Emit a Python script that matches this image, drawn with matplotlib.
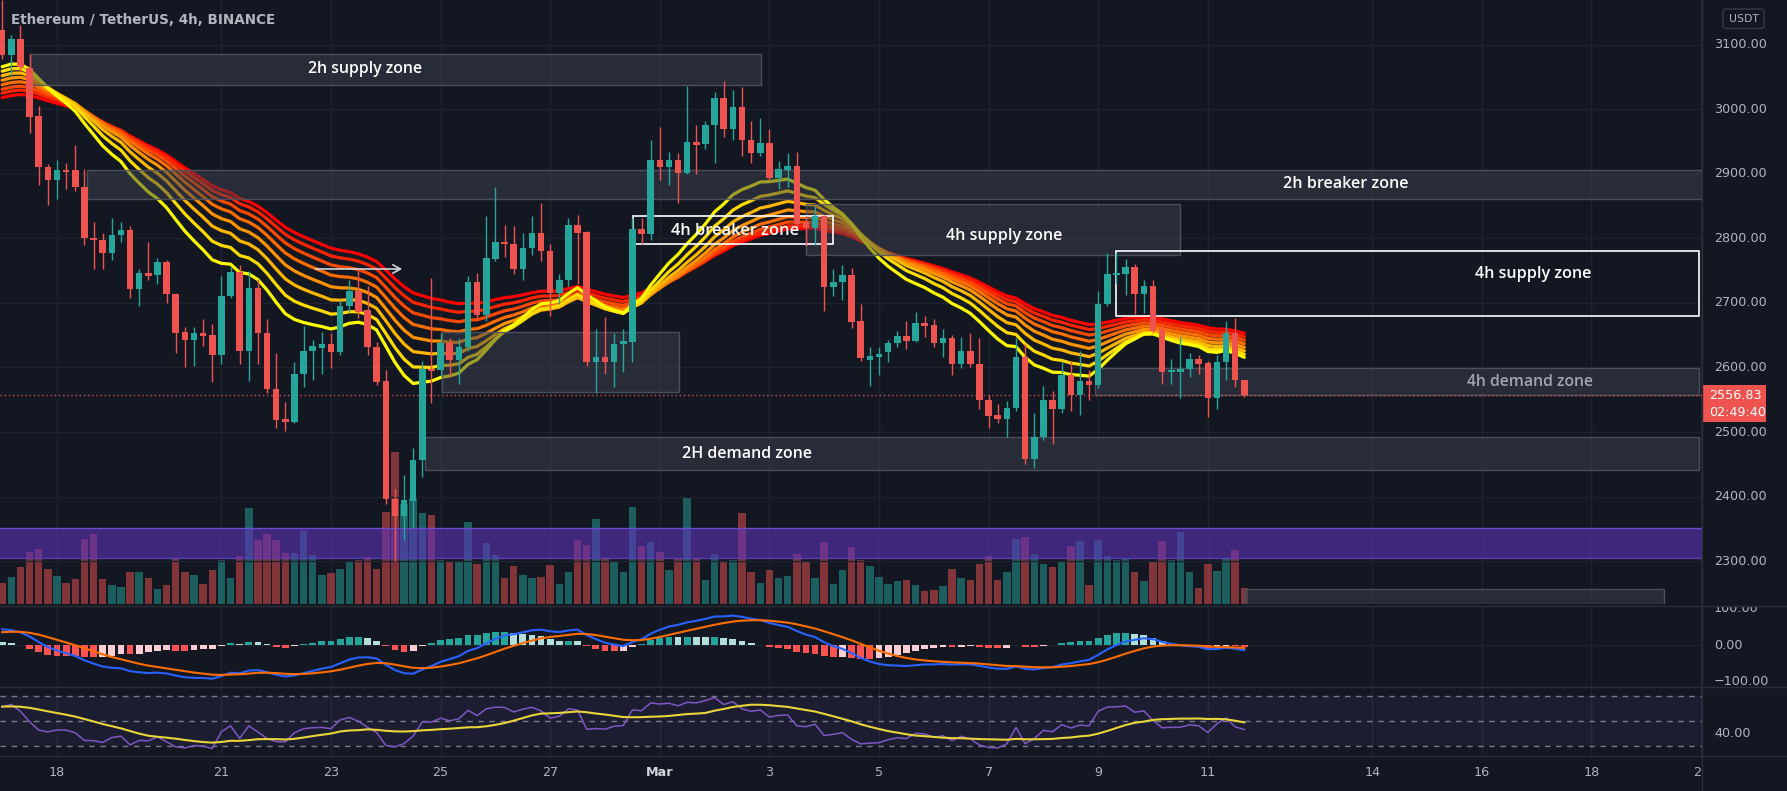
import numpy as np
import matplotlib
matplotlib.use("Agg")
import matplotlib.pyplot as plt
from matplotlib.patches import Rectangle, FancyBboxPatch
from matplotlib.lines import Line2D
from matplotlib.transforms import IdentityTransform

# ---------------- data (ETH/USDT 4h, Binance, from Feb 17 00:00) ----------------
opens = [3123,3084,3109,3064,2990,2910,2890,2906,2906,2879,
         2801,2797,2778,2805,2813,2721,2746,2743,2764,2714,
         2655,2642,2653,2650,2620,2710,2748,2625,2723,2653,
         2567,2520,2516,2590,2625,2630,2636,2624,2696,2719,
         2689,2632,2579,2397,2370,2393,2456,2597,2596,2638,
         2611,2632,2733,2681,2768,2794,2791,2752,2785,2809,
         2780,2716,2736,2820,2810,2608,2616,2608,2636,2640,
         2815,2807,2921,2911,2922,2902,2950,2946,2976,3017,
         2969,3004,2952,2933,2947,2893,2906,2912,2826,2816,
         2834,2724,2733,2744,2672,2612,2617,2624,2638,2649,
         2641,2669,2666,2638,2645,2606,2626,2606,2550,2526,
         2520,2537,2617,2459,2492,2549,2535,2588,2558,2579,
         2573,2698,2744,2745,2756,2714,2727,2659,2593,2593,
         2597,2613,2607,2552,2609,2654,2581]
highs = [3170,3115,3130,3086,3005,2916,2921,2917,2945,2908,
         2826,2809,2832,2826,2819,2753,2795,2769,2766,2716,
         2663,2663,2675,2667,2742,2756,2759,2750,2737,2675,
         2622,2546,2608,2665,2643,2655,2654,2704,2736,2753,
         2727,2640,2596,2412,2433,2476,2610,2739,2654,2645,
         2645,2742,2746,2835,2879,2820,2819,2809,2834,2855,
         2791,2745,2832,2836,2812,2660,2678,2654,2660,2832,
         2832,2952,2972,2934,2933,3036,2976,2982,3027,3044,
         3030,3034,2982,2987,2969,2920,2933,2934,2835,2850,
         2836,2753,2759,2754,2698,2631,2631,2643,2657,2672,
         2686,2680,2675,2660,2651,2648,2654,2645,2558,2543,
         2548,2645,2637,2529,2572,2564,2608,2610,2625,2596,
         2718,2777,2778,2768,2760,2736,2736,2666,2613,2648,
         2622,2620,2610,2619,2672,2676,2581]
lows = [3078,3051,3060,2963,2882,2851,2861,2877,2873,2789,
        2752,2753,2767,2794,2708,2696,2736,2730,2700,2622,
        2600,2602,2634,2577,2605,2707,2606,2579,2606,2560,
        2507,2501,2514,2570,2581,2590,2599,2619,2686,2677,
        2619,2573,2389,2300,2333,2351,2430,2545,2587,2587,
        2574,2625,2675,2672,2765,2771,2745,2736,2774,2765,
        2680,2698,2727,2730,2602,2561,2590,2570,2593,2608,
        2791,2797,2890,2883,2855,2899,2900,2939,2917,2957,
        2953,2928,2917,2927,2890,2876,2879,2815,2788,2789,
        2688,2710,2704,2661,2610,2571,2589,2609,2631,2628,
        2640,2648,2631,2616,2589,2599,2600,2535,2507,2514,
        2492,2532,2450,2444,2488,2482,2529,2532,2526,2549,
        2568,2695,2731,2712,2683,2684,2654,2574,2575,2552,
        2585,2590,2523,2535,2581,2570,2554]
closes = [3084,3109,3066,2988,2910,2891,2906,2903,2879,2800,
          2797,2778,2805,2813,2721,2746,2742,2764,2714,2654,
          2642,2653,2649,2620,2710,2748,2625,2723,2653,2567,
          2519,2516,2590,2625,2634,2636,2624,2696,2719,2686,
          2632,2578,2396,2370,2395,2456,2597,2594,2638,2611,
          2632,2733,2681,2770,2794,2791,2752,2785,2809,2780,
          2716,2736,2820,2809,2608,2616,2608,2636,2641,2815,
          2807,2921,2911,2922,2902,2949,2945,2976,3017,2969,
          3004,2952,2933,2947,2893,2908,2912,2823,2816,2834,
          2724,2733,2744,2671,2614,2618,2621,2638,2649,2641,
          2669,2665,2638,2645,2606,2626,2605,2550,2525,2520,
          2537,2617,2459,2492,2549,2535,2588,2558,2579,2573,
          2698,2745,2747,2756,2714,2727,2657,2593,2596,2597,
          2613,2606,2552,2609,2654,2581,2556.83]
volumes = [21,27,37,52,55,35,28,21,25,65,
           70,25,19,17,32,32,26,15,19,46,
           32,29,20,34,44,26,48,96,64,70,
           64,51,51,73,49,29,31,35,43,44,
           47,35,92,152,100,107,91,89,44,43,
           43,82,40,61,49,26,38,29,26,27,
           39,20,32,64,59,85,46,43,32,97,
           58,62,52,34,46,107,45,24,50,43,
           44,91,32,21,34,26,28,50,43,26,
           62,20,34,57,44,38,27,20,23,24,
           19,13,14,18,35,26,24,40,48,24,
           32,65,67,50,40,37,43,58,63,19,
           64,48,44,46,32,23,43,63,44,72,
           32,16,40,33,46,54,16]

# time axis: day offsets from Feb 17 and their labels
date_days = [1, 4, 6, 8, 10, 12, 14, 16, 18, 20, 22, 25, 27, 29, 31]
date_labels = ['18', '21', '23', '25', '27', 'Mar', '3', '5', '7', '9', '11', '14', '16', '18', '20']

price_ticks = [2300, 2400, 2500, 2600, 2700, 2800, 2900, 3000, 3100]
macd_ticks = [100, 0, -100]
macd_tick_labels = ['100.00', '0.00', '\u2212100.00']
rsi_ticks = [40]
rsi_tick_labels = ['40.00']

ribbon_lengths = [20, 25, 30, 35, 40, 45, 50, 55]
ribbon_start = [3066, 3059, 3052, 3045, 3038, 3031, 3025, 3018]
macd_fast_start, macd_slow_start, macd_signal_start = 3101, 3058, 35
rsi_gain_start, rsi_loss_start = 22, 14
rsi_ma_start = 61.5

# zone drawings: (x0, x1, price_lo, price_hi, kind, label, label_x, label_price, label_width_px)
zones = [
    (3.04, 83.05, 3038, 3085.8, 'gray', '2h supply zone', 39.7, 3062, 114),
    (9.28, 186.2, 2861.3, 2906.7, 'gray', '2h breaker zone', 147.1, 2884, 125),
    (48.1, 74.1, 2562, 2655.5, 'gray', '', 0, 0, 0),
    (88.0, 129.0, 2773.8, 2852.5, 'gray', '4h supply zone', 109.7, 2803, 116),
    (46.3, 185.8, 2441, 2492, 'gray', '2H demand zone', 81.5, 2466, 130),
    (119.6, 185.8, 2558, 2599, 'gray', '4h demand zone', 167.3, 2578, 126),
    (136.0, 182.0, 2233.6, 2256.8, 'gray', '', 0, 0, 0),
    (69.1, 91.0, 2791.3, 2834, 'white', '4h breaker zone', 80.2, 2812, 127),
    (121.96, 185.8, 2680.4, 2779.7, 'white', '4h supply zone', 167.6, 2745.6, 116),
]
arrow_from = (34.0, 2752.6)
arrow_to = (44.1, 2752.6)

# ---------------- styling ----------------
W, H, DPI = 1787, 791, 100
BG = '#131722'
UP = '#26a69a'
DN = '#ef5350'
GRID = '#1f2330'
SEP = '#2a2e39'
TXT = '#b2b5be'
PLOT_R = 1702

fig = plt.figure(figsize=(W / DPI, H / DPI), dpi=DPI, facecolor=BG)
renderer = fig.canvas.get_renderer()


def rect(x0, y0, x1, y1):
    return [x0 / W, 1 - y1 / H, (x1 - x0) / W, (y1 - y0) / H]


def fit(t, width_px):
    bb = t.get_window_extent(renderer)
    if bb.width > 0:
        t.set_fontsize(t.get_fontsize() * width_px / bb.width)
    return t


n = len(closes)
x = np.arange(n)
o = np.array(opens, float)
h = np.array(highs, float)
l = np.array(lows, float)
c = np.array(closes, float)
v = np.array(volumes, float)

XLIM = (-0.241, 186.11)
PLIM = (2233.6, 3169.3)

ax_vol = fig.add_axes(rect(0, 0, PLOT_R, 604))
ax = fig.add_axes(rect(0, 0, PLOT_R, 604), sharex=ax_vol)
ax_m = fig.add_axes(rect(0, 606, PLOT_R, 687), sharex=ax)
ax_r = fig.add_axes(rect(0, 687, PLOT_R, 756), sharex=ax)
ax_pl = fig.add_axes(rect(PLOT_R, 0, W, 604))
ax_ml = fig.add_axes(rect(PLOT_R, 606, W, 687))
ax_rl = fig.add_axes(rect(PLOT_R, 687, W, 756))
ax_tl = fig.add_axes(rect(0, 756, PLOT_R, H))
ax_vol.set_zorder(1)
ax.set_zorder(2)
for a in (ax_vol, ax, ax_m, ax_r, ax_pl, ax_ml, ax_rl, ax_tl):
    a.set_axis_off()

ax.set_xlim(*XLIM)
ax.set_ylim(*PLIM)
ax_vol.set_ylim(0, 604)
MLIM = (-114.4, 106.3)
RLIM = (22.2, 77.0)
ax_m.set_ylim(*MLIM)
ax_r.set_ylim(*RLIM)
ax_pl.set_xlim(0, 85); ax_pl.set_ylim(*PLIM)
ax_ml.set_xlim(0, 85); ax_ml.set_ylim(*MLIM)
ax_rl.set_xlim(0, 85); ax_rl.set_ylim(*RLIM)
ax_tl.set_xlim(*XLIM); ax_tl.set_ylim(0, 1)

# grid
tick_x = [6 * d for d in date_days]
for tx in tick_x:
    for a in (ax_vol, ax_m, ax_r):
        a.axvline(tx, color=GRID, lw=1, zorder=0)
for p in price_ticks:
    ax.axhline(p, color=GRID, lw=1, zorder=0)
ax_m.axhline(0, color=GRID, lw=1, zorder=0)

# volume
up = c >= o
vcol = np.where(up, UP, DN)
ax_vol.bar(x, v, width=0.82, color=vcol, alpha=0.5, zorder=2, linewidth=0)
ax_vol.axhspan(45.6, 76.5, color=(94 / 255, 51 / 255, 186 / 255), alpha=0.6, lw=0, zorder=3)
ax_vol.axhline(76.5, color='#6a4cc8', lw=1, zorder=3)
ax_vol.axhline(45.6, color='#5a3fb0', lw=1, zorder=3)


# indicators computed from the closes
def ema(vals, length, start):
    a = 2.0 / (length + 1)
    out = np.empty(len(vals))
    out[0] = start
    for k in range(1, len(vals)):
        out[k] = out[k - 1] + a * (vals[k] - out[k - 1])
    return out


rib_colors = ['#ffff00', '#ffdb00', '#ffb600', '#ff9200', '#ff6d00', '#ff4900', '#ff2400', '#ff0000']
for k in reversed(range(len(ribbon_lengths))):
    e = ema(c, ribbon_lengths[k], ribbon_start[k])
    ax.plot(x, e, color=rib_colors[k], lw=2.3, zorder=2, solid_capstyle='round')

# zones
for (x0, x1, p0, p1, kind, lab, lx, lp, lw_px) in zones:
    if kind == 'gray':
        ax.add_patch(Rectangle((x0, p0), x1 - x0, p1 - p0, facecolor=(62 / 255, 66 / 255, 78 / 255, 0.5),
                               edgecolor=(80 / 255, 84 / 255, 96 / 255, 0.9), lw=1, zorder=3))
    else:
        ax.add_patch(Rectangle((x0, p0), x1 - x0, p1 - p0, facecolor='none', edgecolor='white', lw=1.2, zorder=3))

# candles
col = np.where(up, UP, DN)
ax.vlines(x, l, h, colors=col, lw=1.0, zorder=4)
body_lo = np.minimum(o, c)
body_h = np.maximum(np.abs(c - o), 2.2)
ax.bar(x, body_h, bottom=body_lo, width=0.72, color=col, zorder=5, linewidth=0)

# zone labels
for (x0, x1, p0, p1, kind, lab, lx, lp, lw_px) in zones:
    if lab:
        tc = '#a3a6af' if lab == '4h demand zone' else 'white'
        t = ax.text(lx, lp, lab, color=tc, ha='center', va='center', fontsize=11,
                    family=['Open Sans', 'DejaVu Sans'], weight='semibold', zorder=7)
        fit(t, lw_px)

# current price dotted line
ax.axhline(c[-1], color=DN, lw=1, ls=(0, (1, 2)), alpha=0.9, zorder=3)

# arrow
ax.annotate('', xy=arrow_to, xytext=arrow_from,
            arrowprops=dict(arrowstyle='->,head_length=0.55,head_width=0.3', color='#d1d4dc', lw=1.2),
            zorder=6)

# MACD
fast = ema(c, 12, macd_fast_start)
slow = ema(c, 26, macd_slow_start)
macd = fast - slow
sig = ema(macd, 9, macd_signal_start)
hist = macd - sig
hcols = []
for k in range(n):
    prev = hist[k - 1] if k > 0 else hist[0] + 1
    if hist[k] >= 0:
        hcols.append('#26a69a' if hist[k] > prev else '#b2dfdb')
    else:
        hcols.append('#ff5252' if hist[k] < prev else '#ffcdd2')
ax_m.bar(x, hist, width=0.75, color=hcols, zorder=2, linewidth=0)
ax_m.plot(x, macd, color='#2962ff', lw=1.5, zorder=3)
ax_m.plot(x, sig, color='#ff6d00', lw=1.5, zorder=3)

# RSI
g, ls_ = float(rsi_gain_start), float(rsi_loss_start)
rsi = [100 - 100 / (1 + g / ls_)]
for k in range(1, n):
    d = c[k] - c[k - 1]
    g = (g * 13 + max(d, 0)) / 14
    ls_ = (ls_ * 13 + max(-d, 0)) / 14
    rsi.append(100 - 100 / (1 + g / ls_))
rsi = np.array(rsi)
padded = np.concatenate([np.full(13, rsi_ma_start), rsi])
rsi_ma = np.convolve(padded, np.ones(14) / 14, mode='valid')
ax_r.axhspan(30, 70, color='#7e57c2', alpha=0.1, lw=0, zorder=1)
for lvl in (70, 50, 30):
    ax_r.axhline(lvl, color='#787b86', lw=1, ls=(0, (4, 4)), zorder=2)
ax_r.plot(x, rsi, color='#7e57c2', lw=1.1, zorder=3)
ax_r.plot(x, rsi_ma, color='#e8d53a', lw=1.5, zorder=4)

# separators
for yy in (606, 687, 756):
    fig.add_artist(Line2D([0, 1], [1 - yy / H, 1 - yy / H], transform=fig.transFigure, color=SEP, lw=1))
fig.add_artist(Line2D([PLOT_R / W, PLOT_R / W], [0, 1], transform=fig.transFigure, color=SEP, lw=1))

# axis labels
base = ax_pl.text(12, price_ticks[-1], '3100.00', color=TXT, va='center', ha='left', fontsize=9.5,
                  family='DejaVu Sans', clip_on=True)
fit(base, 53)
FS = base.get_fontsize()
for p in price_ticks[:-1]:
    ax_pl.text(12, p, f'{p:.2f}', color=TXT, va='center', ha='left', fontsize=FS, family='DejaVu Sans', clip_on=True)
for tv, tl in zip(macd_ticks, macd_tick_labels):
    ax_ml.text(12, tv, tl, color=TXT, va='center', ha='left', fontsize=FS, family='DejaVu Sans', clip_on=True)
for tv, tl in zip(rsi_ticks, rsi_tick_labels):
    ax_rl.text(12, tv, tl, color=TXT, va='center', ha='left', fontsize=FS, family='DejaVu Sans', clip_on=True)
for tx, tl in zip(tick_x, date_labels):
    bold = tl == 'Mar'
    ax_tl.text(tx, 0.526, tl, color='#d1d4dc' if bold else TXT, va='center', ha='center', fontsize=FS,
               family='DejaVu Sans', weight='bold' if bold else 'normal', clip_on=True)

# price tag
tag_top, tag_bot = 385, 422
fig.add_artist(Rectangle((PLOT_R, H - tag_bot), 64, tag_bot - tag_top, transform=IdentityTransform(),
                         facecolor=DN, edgecolor='none'))
fig.text(1709 / W, 1 - 395.4 / H, f'{c[-1]:.2f}', color='white', va='center', ha='left', fontsize=FS,
         family='DejaVu Sans')
fig.text(1709 / W, 1 - 412 / H, '02:49:40', color='white', va='center', ha='left', fontsize=FS,
         family='DejaVu Sans')

# currency box
fig.add_artist(FancyBboxPatch((1723, H - 28.5), 41, 19.5, boxstyle='round,pad=0,rounding_size=3',
                              transform=IdentityTransform(), facecolor=BG, edgecolor='#363a45', lw=1))
fig.text(1743.5 / W, 1 - 19 / H, 'USDT', color=TXT, va='center', ha='center', fontsize=FS * 0.85,
         family='DejaVu Sans')

# title
tt = fig.text(10.7 / W, 1 - 20 / H, 'Ethereum / TetherUS, 4h, BINANCE', color=TXT, va='center', ha='left',
              fontsize=11, family='DejaVu Sans', weight='semibold')
fit(tt, 264)

fig.savefig('out.png', dpi=DPI, facecolor=BG)
